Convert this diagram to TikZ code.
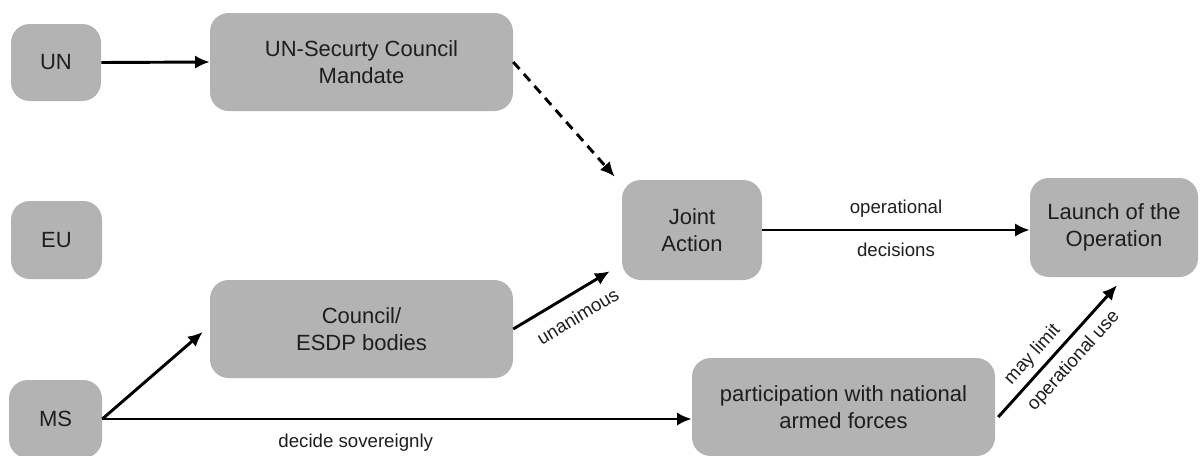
\documentclass[tikz,border=0pt]{standalone}
\usepackage{fontspec}
\setmainfont{Liberation Sans}
\usetikzlibrary{arrows.meta,calc}
\definecolor{boxgray}{HTML}{B3B3B3}
\definecolor{txt}{HTML}{1E1E1E}
\begin{document}
\begin{tikzpicture}[x=0.75pt,y=-0.75pt,
  box/.style={fill=boxgray, rounded corners=14pt, inner sep=0pt, align=center,
    font=\fontsize{16.5}{20}\selectfont, text=txt},
  conn/.style={line width=2.2pt, -{Latex[length=11pt,width=10pt]}},
  lbl/.style={font=\fontsize{14}{16}\selectfont, text=txt}]
\useasboundingbox (0,0) rectangle (1200,455);
\node[box, minimum width=67.5pt, minimum height=57.75pt] (un) at (56,62.5) {UN};
\node[box, minimum width=227.25pt, minimum height=73.5pt] (mandate) at (361.5,62) {UN-Securty Council\\Mandate};
\node[box, minimum width=68.25pt, minimum height=58.5pt] (eu) at (56.5,240) {EU};
\node[box, minimum width=69.75pt, minimum height=58.5pt] (ms) at (55.5,419) {MS};
\node[box, minimum width=227.25pt, minimum height=73.5pt] (council) at (361.5,329) {Council/\\ESDP bodies};
\node[box, minimum width=105pt, minimum height=75pt] (joint) at (692,230) {Joint\\Action};
\node[box, minimum width=126pt, minimum height=74.25pt] (launch) at (1114,227.5) {Launch of the\\Operation};
\node[box, minimum width=227.25pt, minimum height=73.5pt] (part) at (843.5,407) {participation with national\\armed forces};

\draw[conn] (un.east) -- (mandate.west);
\draw[conn, dash pattern=on 7pt off 5pt] (mandate.east) -- ($(joint.north west)+(-7,-3)$);
\draw[conn] (joint.east) -- (joint.east -| launch.west)
  node[lbl, midway, above=5pt] {operational}
  node[lbl, midway, below=5pt] {decisions};
\draw[conn] (ms.east) -- ($(council.west)+(-7,3)$);
\draw[conn] (ms.east) -- (ms.east -| part.west)
  node[lbl, pos=0.43, below=7pt] {decide sovereignly};
\draw[conn] (council.east) -- ($(joint.south west)+(-12,-9)$)
  node[lbl, sloped, pos=0.55, below=7pt] {unanimous};
\draw[conn] ($(part.east)+(3,10)$) -- ($(launch.south)+(3,8)$)
  node[lbl, sloped, pos=0.39, above=1pt] {may limit}
  node[lbl, sloped, pos=0.52, below=3pt] {operational use};
\end{tikzpicture}
\end{document}
